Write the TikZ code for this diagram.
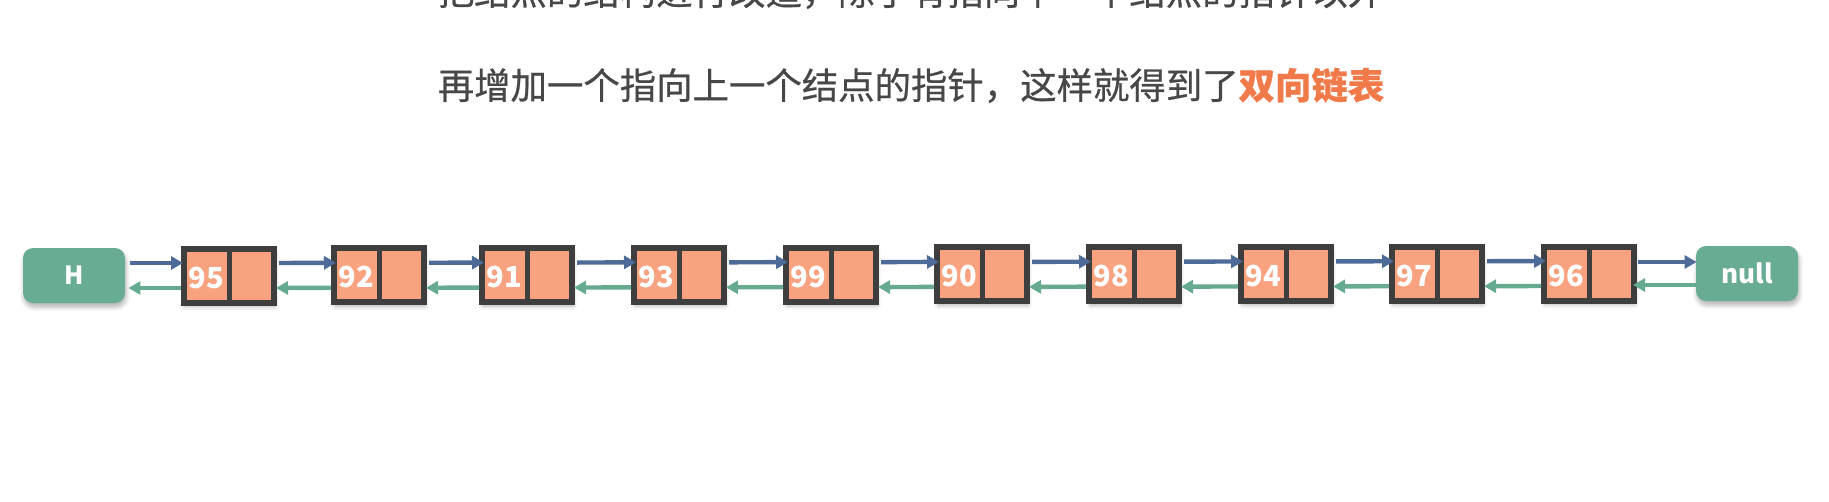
\documentclass[tikz,border=0pt]{standalone}
\usepackage{fontspec}
\setmainfont{Noto Sans CJK SC}
\newfontfamily\medcjk{Noto Sans CJK SC}[FakeBold=0.6]
\usetikzlibrary{arrows.meta,shadows.blur,calc}
\definecolor{cellfill}{HTML}{F8A27F}
\definecolor{cellborder}{HTML}{3E3E3E}
\definecolor{fwdblue}{HTML}{4D6A98}
\definecolor{bwdgreen}{HTML}{66AA8F}
\definecolor{termgreen}{HTML}{68AD93}
\definecolor{txtgray}{HTML}{474747}
\definecolor{hlorange}{HTML}{F07A4A}
\tikzset{
  listbox/.style={draw=cellborder, line width=3pt, fill=cellfill, minimum width=45pt,
    minimum height=27pt, inner sep=0pt,
    blur shadow={shadow xshift=0.5pt, shadow yshift=-2pt, shadow opacity=30, shadow blur steps=6}},
  divider/.style={draw=cellborder, line width=2.5pt},
  numtext/.style={text=white, inner sep=0pt, font=\bfseries\fontsize{14.5}{14.5}\selectfont},
  term/.style={fill=termgreen, rounded corners=5pt, minimum width=51pt, minimum height=27.5pt,
    inner sep=0pt, text=white,
    blur shadow={shadow xshift=0.5pt, shadow yshift=-2pt, shadow opacity=30, shadow blur steps=6}},
  fwd/.style={draw=fwdblue, line width=2.2pt, -{Triangle[length=6pt,width=6.5pt]}},
  bwd/.style={draw=bwdgreen, line width=2.2pt, -{Triangle[length=6pt,width=6.5pt]}},
  captext/.style={anchor=base, inner sep=0pt, text=txtgray, font=\medcjk\fontsize{18.2}{20}\selectfont},
}
\begin{document}
\begin{tikzpicture}[x=0.5pt,y=-0.5pt]
\useasboundingbox (0,0) rectangle (1829,502);
\begin{scope}
\clip (0,0) rectangle (1829,502);
\node[captext] (line1) at (911,5) {把结点的结构进行改造，除了有指向下一个结点的指针以外};
\node[captext] (line2) at (911,99) {再增加一个指向上一个结点的指针，这样就得到了\textcolor{hlorange}{\bfseries 双向链表}};

\node[term, font=\bfseries\fontsize{12.5}{12.5}\selectfont] (H) at (74,275.5) {H};
\node[term, font=\bfseries\fontsize{13}{13}\selectfont] (null) at (1747,273.5) {null};

\foreach \i/\x/\v in {1/181/95, 2/331/92, 3/479/91, 4/631/93, 5/783/99, 6/934/90, 7/1086/98, 8/1238/94, 9/1389/97, 10/1541/96} {
  \pgfmathsetmacro{\cx}{\x+48}
  \pgfmathsetmacro{\cy}{275.5-2*(\i-1)/9}
  \node[listbox] (box\i) at (\cx,\cy) {};
  \draw[divider] (box\i.north) -- (box\i.south);
  \node[numtext] (num\i) at ($(box\i.center)+(-23,2)$) {\v};
}

\foreach \i [evaluate=\i as \j using int(\i+1)] in {1,...,9} {
  \draw[fwd] ($(box\i.east)+(2,-12.5)$) -- ($(box\j.west)+(5,-12.5)$);
  \draw[bwd] ($(box\j.west)+(0,12.5)$) -- ($(box\i.east)+(-1,12.5)$);
}
\draw[fwd] ($(H.east)+(5,-12.5)$) -- ($(box1.west)+(2,-12.5)$);
\draw[bwd] ($(box1.west)+(0,12.5)$) -- ($(H.east)+(3,12.5)$);
\draw[fwd] ($(box10.east)+(1,-11.5)$) -- ($(null.west)+(1,-11.5)$);
\draw[bwd] ($(null.west)+(0,11.5)$) -- ($(box10.east)+(-4,11.5)$);
\end{scope}
\end{tikzpicture}
\end{document}
